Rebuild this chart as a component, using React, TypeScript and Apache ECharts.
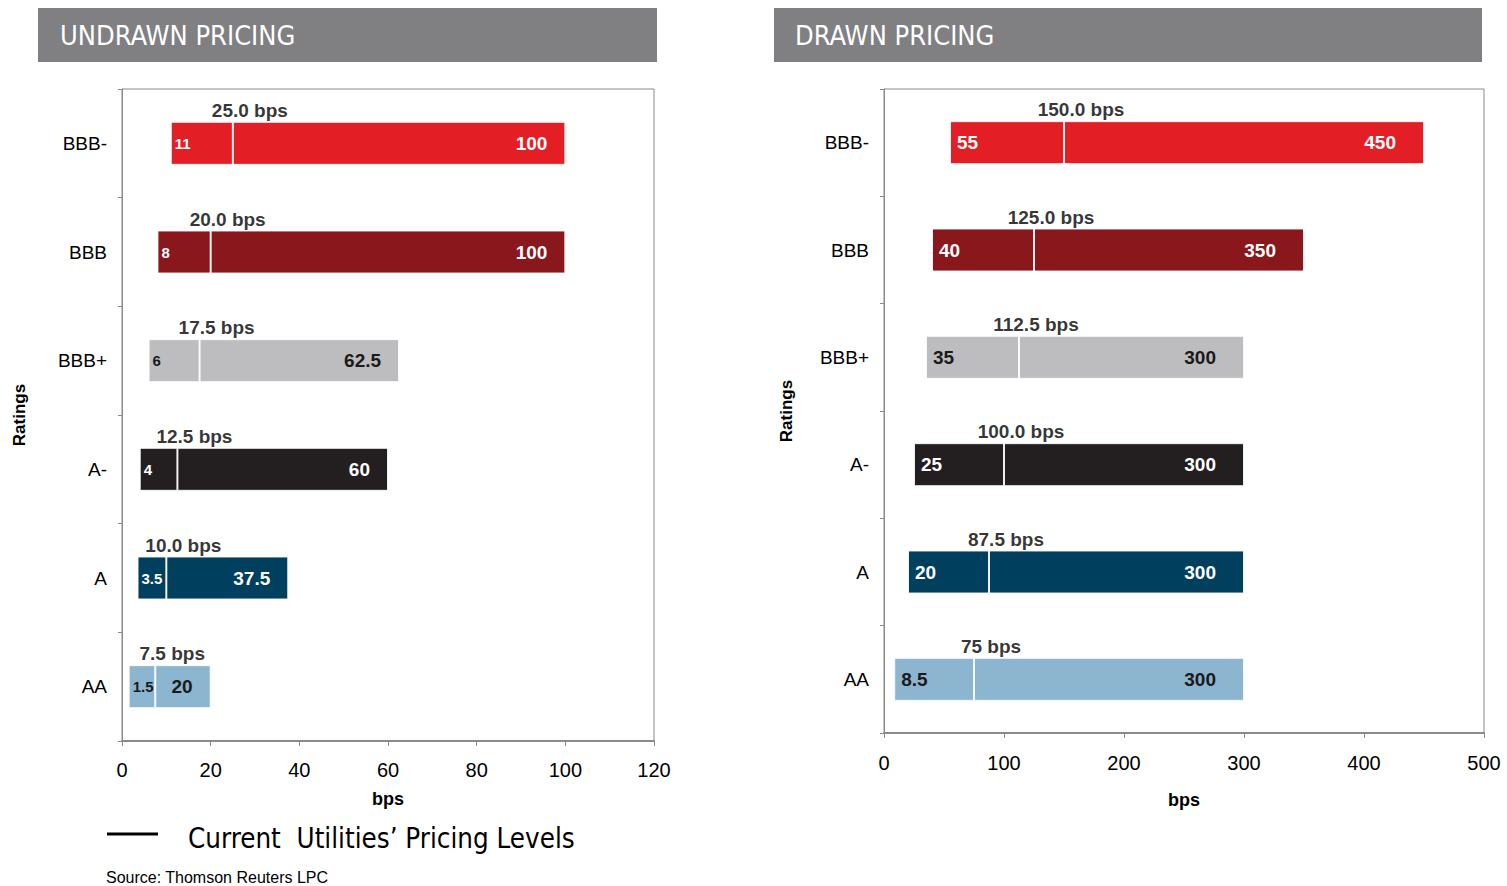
import React, { useEffect, useRef } from "react";
import * as echarts from "echarts";

// ---- data ----
const ratings = ["BBB-", "BBB", "BBB+", "A-", "A", "AA"];

const undrawnMin = [11, 8, 6, 4, 3.5, 1.5];
const undrawnMedian = [25, 20, 17.5, 12.5, 10, 7.5];
const undrawnMax = [100, 100, 62.5, 60, 37.5, 20];
const undrawnMedianLabels = ["25.0 bps", "20.0 bps", "17.5 bps", "12.5 bps", "10.0 bps", "7.5 bps"];

const drawnMin = [55, 40, 35, 25, 20, 8.5];
const drawnMedian = [150, 125, 112.5, 100, 87.5, 75];
const drawnMax = [450, 350, 300, 300, 300, 300];
const drawnMedianLabels = ["150.0 bps", "125.0 bps", "112.5 bps", "100.0 bps", "87.5 bps", "75 bps"];

const undrawnTicks = { min: 0, max: 120, interval: 20 };
const drawnTicks = { min: 0, max: 500, interval: 100 };

// ---- styles ----
const barColors = ["#E31E24", "#8A171B", "#BDBDBF", "#231F20", "#00405E", "#8CB5D0"];
const labelColors = ["#FFFFFF", "#FFFFFF", "#1A1A1A", "#FFFFFF", "#FFFFFF", "#1A1A1A"];
const FONT = "'Liberation Sans', Arial, sans-serif";
const NARROW = "'Liberation Sans Narrow', 'DejaVu Sans Condensed', 'Liberation Sans', sans-serif";
const AXIS_GREY = "#8A8A8A";

function buildSeries(
  idx: number,
  mins: number[],
  medians: number[],
  maxs: number[],
  medLabels: string[],
  minFont: number,
  minDist: number,
  maxDist: number
) {
  const stack = "s" + idx;
  const common = { xAxisIndex: idx, yAxisIndex: idx, stack, barWidth: 43, silent: true };
  const withLabelColor = (arr: number[]) =>
    arr.map((v, i) => ({ value: v, label: { color: labelColors[i] } }));
  return [
    {
      ...common,
      type: "bar",
      data: mins,
      itemStyle: { color: "transparent", borderWidth: 0 },
    },
    {
      ...common,
      type: "bar",
      data: withLabelColor(medians.map((m, i) => m - mins[i])),
      itemStyle: {
        color: (p: any) => barColors[p.dataIndex],
        borderColor: "rgba(255,255,255,0.85)",
        borderWidth: 1,
      },
      label: {
        show: true,
        position: "insideLeft",
        distance: minDist,
        formatter: (p: any) => String(mins[p.dataIndex]),
        fontFamily: FONT,
        fontWeight: "bold",
        fontSize: minFont,
      },
    },
    {
      ...common,
      type: "bar",
      data: withLabelColor(maxs.map((m, i) => m - medians[i])),
      itemStyle: {
        color: (p: any) => barColors[p.dataIndex],
        borderColor: "rgba(255,255,255,0.85)",
        borderWidth: 1,
      },
      label: {
        show: true,
        position: "insideRight",
        distance: maxDist,
        formatter: (p: any) => String(maxs[p.dataIndex]),
        fontFamily: FONT,
        fontWeight: "bold",
        fontSize: 19,
      },
    },
    {
      type: "scatter",
      xAxisIndex: idx,
      yAxisIndex: idx,
      silent: true,
      symbolSize: 0,
      data: medians.map((m, i) => [m, i]),
      label: {
        show: true,
        position: "inside",
        offset: [17, -33],
        formatter: (p: any) => medLabels[p.dataIndex],
        fontFamily: FONT,
        fontWeight: "bold",
        fontSize: 19,
        color: "#000",
      },
    },
  ];
}

export default function App() {
  const ref = useRef<HTMLDivElement>(null);
  useEffect(() => {
    document.body.style.margin = "0";
    const chart = echarts.init(ref.current!, null, { renderer: "svg" });

    const series: any[] = [
      ...buildSeries(0, undrawnMin, undrawnMedian, undrawnMax, undrawnMedianLabels, 15, 4, 18),
      ...buildSeries(1, drawnMin, drawnMedian, drawnMax, drawnMedianLabels, 19, 7, 28),
    ];

    const yAxisBase = (idx: number, gap: number) => ({
      type: "category",
      gridIndex: idx,
      data: ratings,
      inverse: true,
      name: "Ratings",
      nameLocation: "middle",
      nameGap: gap,
      nameRotate: 90,
      nameTextStyle: { fontFamily: FONT, fontWeight: "bold", fontSize: 17, color: "#000" },
      axisLine: { show: true, lineStyle: { color: AXIS_GREY, width: 1 } },
      axisTick: { show: true, length: 4, lineStyle: { color: AXIS_GREY } },
      axisLabel: { fontFamily: FONT, fontSize: 19, color: "#000", margin: 15 },
      splitLine: { show: false },
    });

    const xAxisBase = (idx: number, ticks: any, margin: number, gap: number) => ({
      type: "value",
      gridIndex: idx,
      min: ticks.min,
      max: ticks.max,
      interval: ticks.interval,
      name: "bps",
      nameLocation: "middle",
      nameGap: gap,
      nameTextStyle: { fontFamily: FONT, fontWeight: "bold", fontSize: 18, color: "#000" },
      axisLine: { show: true, lineStyle: { color: AXIS_GREY, width: 2 } },
      axisTick: { show: true, length: 5, lineStyle: { color: AXIS_GREY } },
      axisLabel: { fontFamily: FONT, fontSize: 20, color: "#000", margin: margin },
      splitLine: { show: false },
    });

    chart.setOption({
      animation: false,
      grid: [
        { left: 122, top: 89, width: 532, height: 652, show: true, borderColor: AXIS_GREY, borderWidth: 1, backgroundColor: "#fff" },
        { left: 884, top: 89, width: 600, height: 644, show: true, borderColor: AXIS_GREY, borderWidth: 1, backgroundColor: "#fff" },
      ],
      xAxis: [xAxisBase(0, undrawnTicks, 19, 49), xAxisBase(1, drawnTicks, 20, 58)],
      yAxis: [yAxisBase(0, 94), yAxisBase(1, 89)],
      series,
      graphic: [
        { type: "rect", shape: { x: 38, y: 8, width: 619, height: 54 }, style: { fill: "#808083" } },
        {
          type: "text",
          x: 60,
          y: 35,
          style: { text: "UNDRAWN PRICING", fill: "#fff", font: `27px ${NARROW}`, textVerticalAlign: "middle" },
        },
        { type: "rect", shape: { x: 774, y: 8, width: 708, height: 54 }, style: { fill: "#808083" } },
        {
          type: "text",
          x: 795,
          y: 35,
          style: { text: "DRAWN PRICING", fill: "#fff", font: `27px ${NARROW}`, textVerticalAlign: "middle" },
        },
        { type: "line", shape: { x1: 107, y1: 834, x2: 158, y2: 834 }, style: { stroke: "#000", lineWidth: 3 } },
        {
          type: "text",
          x: 188,
          y: 838,
          style: {
            text: "Current  Utilities’ Pricing Levels",
            fill: "#000",
            font: `27.5px ${NARROW}`,
            textVerticalAlign: "middle",
          },
        },
        {
          type: "text",
          x: 106,
          y: 877,
          style: { text: "Source: Thomson Reuters LPC", fill: "#000", font: `16px ${FONT}`, textVerticalAlign: "middle" },
        },
      ],
    });
    return () => chart.dispose();
  }, []);
  return <div ref={ref} style={{ width: 1507, height: 886 }} />;
}
